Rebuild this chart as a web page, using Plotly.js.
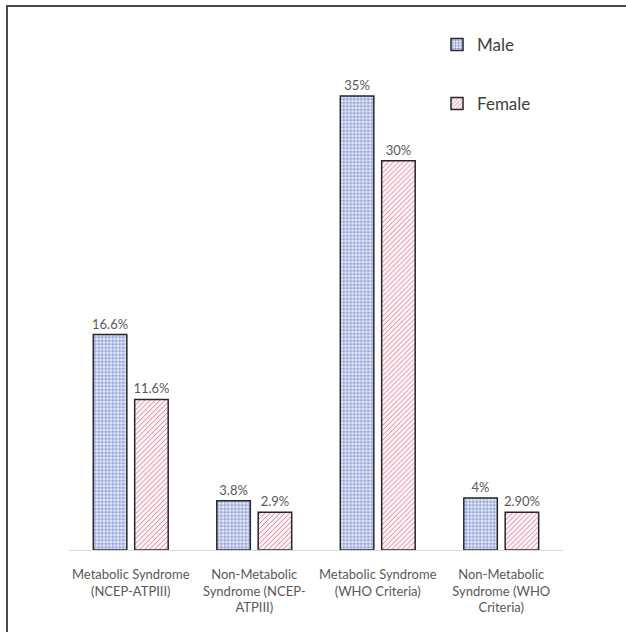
<!DOCTYPE html>
<html>
<head>
<meta charset="utf-8">
<script src="https://cdn.plot.ly/plotly-3.0.1.min.js"></script>
<style>
  html, body { margin: 0; padding: 0; background: #ffffff; }
  #frame {
    position: absolute; left: 6px; top: 5px; right: 0; bottom: 0;
    border-top: 2px solid #4a4a4a; border-left: 2px solid #4a4a4a;
  }
  #chart { position: absolute; left: 0; top: 0; width: 626px; height: 632px; }
</style>
</head>
<body>
<div id="frame"></div>
<div id="chart"></div>
<script>
// Prevalence of metabolic syndrome by sex and diagnostic criteria
const categories = [
  'Metabolic Syndrome<br>(NCEP-ATPIII)',
  'Non-Metabolic<br>Syndrome (NCEP-<br>ATPIII)',
  'Metabolic Syndrome<br>(WHO Criteria)',
  'Non-Metabolic<br>Syndrome (WHO<br>Criteria)'
];
const maleValues = [16.6, 3.8, 35, 4];
const femaleValues = [11.6, 2.9, 30, 2.9];
const maleLabels = ['16.6%', '3.8%', '35%', '4%'];
const femaleLabels = ['11.6%', '2.9%', '30%', '2.90%'];

const labelFont = { family: 'Lato, "Open Sans", sans-serif', size: 13, color: '#595959' };

const male = {
  type: 'bar', name: 'Male', x: categories, y: maleValues,
  text: maleLabels, textposition: 'outside', textfont: labelFont,
  constraintext: 'none', cliponaxis: false, legendgroup: 'm',
  marker: {
    color: '#ffffff',
    line: { color: '#262626', width: 1.5 },
    pattern: { shape: '+', fgcolor: '#5a72c4', bgcolor: '#e9edf9', size: 3.5, solidity: 0.3 }
  },
  hoverinfo: 'skip'
};
const female = {
  type: 'bar', name: 'Female', x: categories, y: femaleValues,
  text: femaleLabels, textposition: 'outside', textfont: labelFont,
  constraintext: 'none', cliponaxis: false, legendgroup: 'f',
  marker: {
    color: '#ffffff',
    line: { color: '#262626', width: 1.5 },
    pattern: { shape: '/', fgcolor: '#e0728c', bgcolor: '#fdf6f8', size: 3.5, solidity: 0.27 }
  },
  hoverinfo: 'skip'
};

const layout = {
  width: 626, height: 632,
  margin: { l: 69, r: 63, t: 31, b: 82 },
  paper_bgcolor: 'rgba(0,0,0,0)',
  plot_bgcolor: 'rgba(0,0,0,0)',
  barmode: 'group',
  bargap: 0.33,
  bargroupgap: 0.19,
  font: { family: 'Lato, "Open Sans", sans-serif', color: '#595959' },
  xaxis: {
    showline: true, linecolor: '#d9d9d9', linewidth: 1,
    ticks: '', showgrid: false, zeroline: false,
    ticklabelstandoff: 12,
    tickfont: { family: 'Lato, "Open Sans", sans-serif', size: 13, color: '#595959' }
  },
  yaxis: {
    range: [0, 40], visible: false, showgrid: false, zeroline: false
  },
  showlegend: true,
  legend: {
    x: 0.745, y: 1.008, xanchor: 'left', yanchor: 'top',
    traceorder: 'grouped', tracegroupgap: 34,
    font: { family: 'Lato, "Open Sans", sans-serif', size: 17, color: '#404040' },
    bgcolor: 'rgba(0,0,0,0)'
  }
};

Plotly.newPlot('chart', [male, female], layout, { displayModeBar: false, staticPlot: true });
</script>
</body>
</html>
